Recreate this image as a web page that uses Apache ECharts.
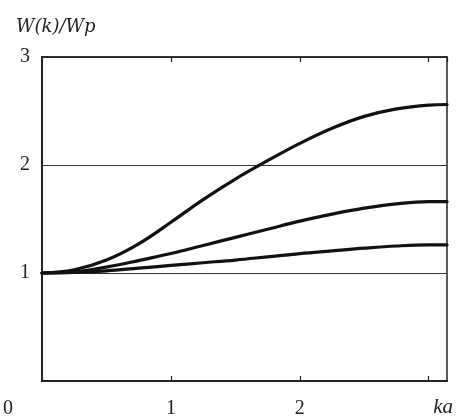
<!DOCTYPE html>
<html>
<head>
<meta charset="utf-8">
<script src="https://cdn.jsdelivr.net/npm/echarts@6/dist/echarts.min.js"></script>
<style>
html,body{margin:0;padding:0;background:#fff;}
#c{width:456px;height:419px;}
</style>
</head>
<body>
<div id="c"></div>
<script>
const kaValues = [0, 0.25, 0.5, 0.75, 1.0, 1.25, 1.5, 1.75, 2.0, 2.25, 2.5, 2.75, 3.0, Math.PI];
const topCurve = [1.00, 1.03, 1.12, 1.27, 1.47, 1.68, 1.87, 2.04, 2.20, 2.34, 2.45, 2.52, 2.555, 2.56];
const middleCurve = [1.00, 1.01, 1.055, 1.115, 1.18, 1.255, 1.33, 1.405, 1.48, 1.545, 1.60, 1.64, 1.66, 1.66];
const bottomCurve = [1.00, 1.005, 1.02, 1.045, 1.07, 1.095, 1.12, 1.15, 1.18, 1.205, 1.23, 1.25, 1.26, 1.26];
const xTickLabels = ['0', '1', '2'];
const yTickLabels = ['1', '2', '3'];
const yTitle = 'W(k)/Wp';
const xTitle = 'ka';

const pair = arr => kaValues.map((k, i) => [k, arr[i]]);
const serif = 'Liberation Serif';

const chart = echarts.init(document.getElementById('c'), null, {renderer: 'canvas'});
const lineSeries = (name, arr) => ({
  name, type: 'line', data: pair(arr), smooth: 0.4, showSymbol: false,
  lineStyle: {color: '#111', width: 3.2, cap: 'round', join: 'round'}, z: 5
});

chart.setOption({
  backgroundColor: '#fff',
  animation: false,
  title: {
    text: yTitle, left: 11, top: 13,
    textStyle: {fontFamily: 'DejaVu Serif', fontStyle: 'italic', fontWeight: 'normal', fontSize: 18, color: '#222'}
  },
  grid: {left: 42, right: 6, top: 57, bottom: 33, show: true, borderColor: '#222', borderWidth: 1.5},
  xAxis: [{
    type: 'value', min: 0, max: Math.PI, interval: 1, position: 'bottom',
    axisLine: {show: true, lineStyle: {color: '#222', width: 2}},
    axisTick: {show: true, inside: true, length: 5, lineStyle: {color: '#222', width: 1.2}},
    splitLine: {show: false},
    axisLabel: {
      showMinLabel: true, showMaxLabel: false, margin: 18,
      fontFamily: serif, fontSize: 20, color: '#222',
      formatter: v => {
        const i = Math.round(v);
        if (Math.abs(v - i) > 1e-6 || i > 2) return '';
        if (i === 0) return '{z|' + xTickLabels[0] + '}';
        return xTickLabels[i];
      },
      rich: {z: {fontFamily: serif, fontSize: 20, color: '#222', padding: [0, 68, 0, 0]}}
    },
    name: xTitle, nameLocation: 'end', nameGap: 6,
    nameTextStyle: {fontFamily: serif, fontStyle: 'italic', fontSize: 21, color: '#222', align: 'right', verticalAlign: 'top', padding: [16, 0, 0, 0]}
  }, {
    type: 'value', min: 0, max: Math.PI, interval: 1, position: 'top',
    axisLine: {show: true, lineStyle: {color: '#222', width: 1.5}},
    axisTick: {show: true, inside: true, length: 5, lineStyle: {color: '#222', width: 1.2}},
    axisLabel: {show: false}, splitLine: {show: false}
  }],
  yAxis: [{
    type: 'value', min: 0, max: 3, interval: 1,
    axisLine: {show: true, lineStyle: {color: '#222', width: 2}},
    axisTick: {show: false},
    splitLine: {show: true, lineStyle: {color: '#333', width: 1}},
    axisLabel: {
      margin: 12, fontFamily: serif, fontSize: 20, color: '#222', padding: [4, 0, 0, 0],
      formatter: v => (v >= 1 && v <= 3) ? yTickLabels[Math.round(v) - 1] : ''
    }
  }],
  series: [
    lineSeries('top', topCurve),
    lineSeries('middle', middleCurve),
    lineSeries('bottom', bottomCurve)
  ]
});
</script>
</body>
</html>
